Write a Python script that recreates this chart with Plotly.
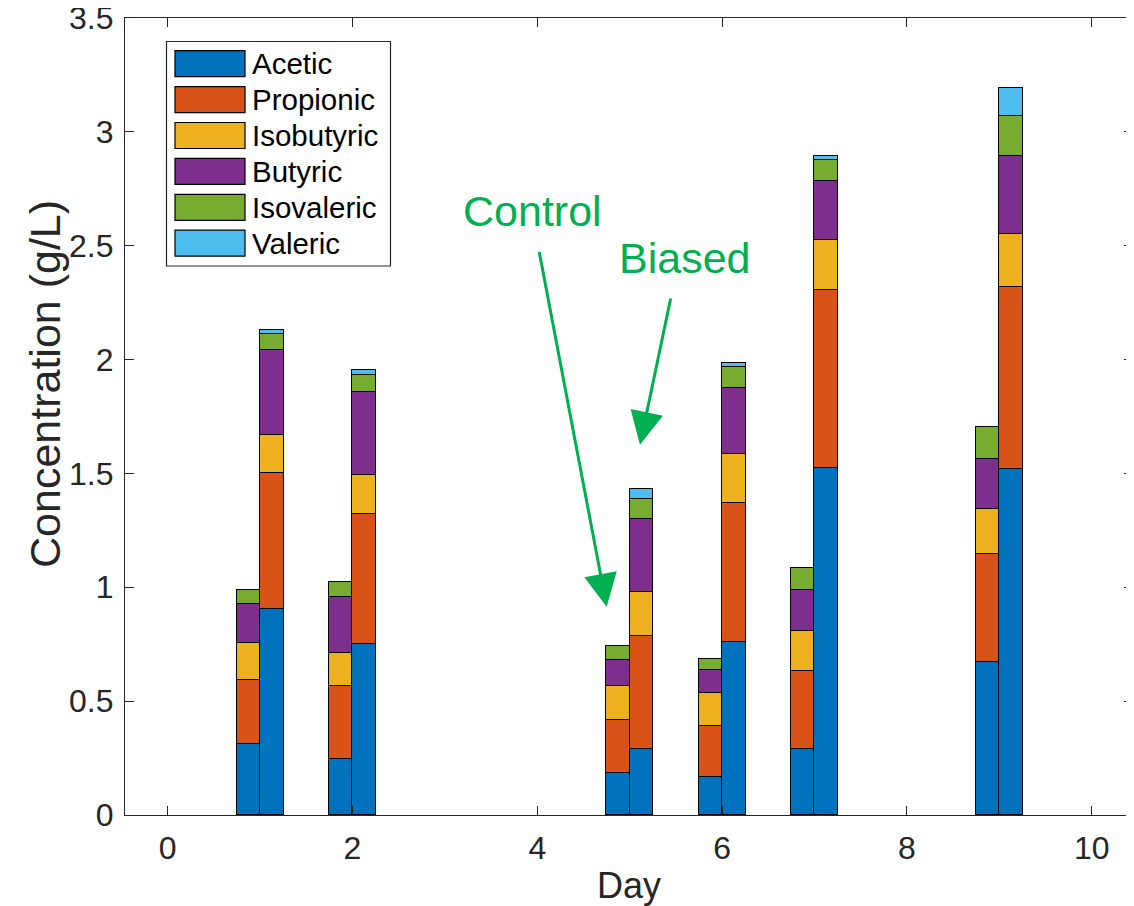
import plotly.graph_objects as go

# ---------------- data ----------------
days = [1, 2, 5, 6, 7, 9]
acids = ["Acetic", "Propionic", "Isobutyric", "Butyric", "Isovaleric", "Valeric"]
colors = ["#0072BD", "#D95319", "#EDB120", "#7E2F8E", "#77AC30", "#4DBEEE"]

control_acetic = [0.312, 0.246, 0.183, 0.168, 0.292, 0.672]
control_propionic = [0.279, 0.321, 0.236, 0.222, 0.340, 0.474]
control_isobutyric = [0.164, 0.144, 0.148, 0.145, 0.175, 0.200]
control_butyric = [0.172, 0.248, 0.115, 0.103, 0.179, 0.217]
control_isovaleric = [0.059, 0.066, 0.058, 0.048, 0.097, 0.139]
control_valeric = [0.0, 0.0, 0.0, 0.0, 0.0, 0.0]

biased_acetic = [0.904, 0.751, 0.290, 0.759, 1.525, 1.518]
biased_propionic = [0.597, 0.571, 0.497, 0.610, 0.780, 0.800]
biased_isobutyric = [0.166, 0.172, 0.192, 0.218, 0.220, 0.235]
biased_butyric = [0.375, 0.362, 0.320, 0.288, 0.258, 0.339]
biased_isovaleric = [0.072, 0.075, 0.088, 0.092, 0.094, 0.178]
biased_valeric = [0.014, 0.023, 0.045, 0.018, 0.015, 0.124]

x_ticks = [0, 2, 4, 6, 8, 10]
y_ticks = [0, 0.5, 1, 1.5, 2, 2.5, 3, 3.5]
y_tick_labels = ["0", "0.5", "1", "1.5", "2", "2.5", "3", "3.5"]

control = [control_acetic, control_propionic, control_isobutyric,
           control_butyric, control_isovaleric, control_valeric]
biased = [biased_acetic, biased_propionic, biased_isobutyric,
          biased_butyric, biased_isovaleric, biased_valeric]

# ---------------- figure ----------------
FONT = "Liberation Sans, Arial, Helvetica, sans-serif"
GREEN = "#00B050"
AXC = "#262626"
offset = 0.127
bw = 0.254

fig = go.Figure()
for group, sign in ((control, -1), (biased, 1)):
    for name, vals, col in zip(acids, group, colors):
        fig.add_trace(go.Bar(
            x=[d + sign * offset for d in days],
            y=vals,
            width=bw,
            name=name,
            marker=dict(color=col, line=dict(color="black", width=1.4)),
            showlegend=False,
            hoverinfo="x+y+name",
        ))

# page body has an 8px margin in the browser; size the figure to fit the window
OFF = 8
W, H = 1134 - OFF, 906 - OFF
ml, mr, mt, mb = 125 - OFF, 1, 18 - OFF, 91

fig.update_layout(
    width=W, height=H,
    barmode="stack",
    bargap=0,
    plot_bgcolor="white",
    paper_bgcolor="white",
    margin=dict(l=ml, r=mr, t=mt, b=mb, pad=0),
    font=dict(family=FONT, color=AXC),
    showlegend=False,
)

fig.update_xaxes(
    range=[-0.462, 10.447],
    automargin=False,
    tickvals=x_ticks,
    ticktext=[str(t) for t in x_ticks],
    ticks="inside", ticklen=9, tickwidth=1.3, tickcolor=AXC,
    showline=True, linecolor=AXC, linewidth=1.3, mirror="ticks",
    showgrid=False, zeroline=False,
    tickfont=dict(size=32, family=FONT, color=AXC),
    ticklabelstandoff=4,
    ticklabeloverflow="allow",
    title=dict(text="Day", font=dict(size=36, family=FONT, color=AXC), standoff=8),
)
fig.update_yaxes(
    range=[0, 3.5],
    automargin=False,
    tickvals=y_ticks,
    ticktext=y_tick_labels,
    ticks="inside", ticklen=9, tickwidth=1.3, tickcolor=AXC,
    showline=True, linecolor=AXC, linewidth=1.3, mirror="ticks",
    showgrid=False, zeroline=False,
    tickfont=dict(size=32, family=FONT, color=AXC),
    ticklabelstandoff=4,
    ticklabeloverflow="allow",
)

# helpers: page pixel -> paper coordinates
pw = W - ml - mr
ph = H - mt - mb

def px(xp):
    return (xp - OFF - ml) / pw

def py(yp):
    return (H - mb - (yp - OFF)) / ph

shapes = []
annotations = []

# y-axis label (real text, rotated)
annotations.append(dict(xref="paper", yref="paper", x=px(45), y=py(384),
                        xanchor="center", yanchor="middle", textangle=-90,
                        text="Concentration (g/L)", showarrow=False,
                        font=dict(size=43, family=FONT, color=AXC)))

# ---------------- manual legend (MATLAB-like) ----------------
shapes.append(dict(type="rect", xref="paper", yref="paper",
                   x0=px(166.5), x1=px(390.5), y0=py(266), y1=py(41.5),
                   line=dict(color=AXC, width=1.2), fillcolor="white", layer="above"))
row0, dy = 63.7, 35.9
for i, (name, col) in enumerate(zip(acids, colors)):
    cy = row0 + i * dy
    shapes.append(dict(type="rect", xref="paper", yref="paper",
                       x0=px(175), x1=px(245), y0=py(cy + 13), y1=py(cy - 13),
                       line=dict(color="black", width=1.2), fillcolor=col, layer="above"))
    annotations.append(dict(xref="paper", yref="paper", x=px(250), y=py(cy),
                            xanchor="left", yanchor="middle", text=name, showarrow=False,
                            font=dict(size=29.5, family=FONT, color="black")))

# ---------------- Control / Biased annotations ----------------
annotations.append(dict(x=3.946, y=2.651, xref="x", yref="y", text="Control", showarrow=False,
                        xanchor="center", yanchor="middle",
                        font=dict(size=43, family=FONT, color=GREEN)))
annotations.append(dict(x=5.598, y=2.446, xref="x", yref="y", text="Biased", showarrow=False,
                        xanchor="center", yanchor="middle",
                        font=dict(size=43, family=FONT, color=GREEN)))
annotations.append(dict(x=4.751, y=0.915, ax=4.018, ay=2.479, xref="x", yref="y",
                        axref="x", ayref="y", text="", showarrow=True,
                        arrowhead=2, arrowsize=2.2, arrowwidth=3, arrowcolor=GREEN))
annotations.append(dict(x=5.111, y=1.626, ax=5.447, ay=2.275, xref="x", yref="y",
                        axref="x", ayref="y", text="", showarrow=True,
                        arrowhead=2, arrowsize=2.2, arrowwidth=3, arrowcolor=GREEN))

fig.update_layout(shapes=shapes, annotations=annotations)

fig.write_html("out.html")
